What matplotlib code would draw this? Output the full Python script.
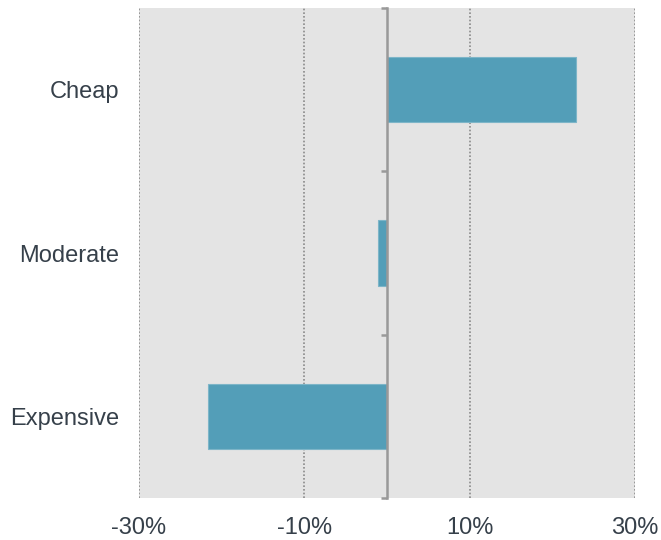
import matplotlib
matplotlib.use("Agg")
import matplotlib.pyplot as plt
import numpy as np

categories = ["Cheap", "Moderate", "Expensive"]
values = [22.9, -1.1, -21.6]
xticks = [-30, -10, 10, 30]
xtick_labels = ["-30%", "-10%", "10%", "30%"]

plt.rcParams['font.family'] = ['Liberation Sans', 'DejaVu Sans']

fig = plt.figure(figsize=(6.61, 5.40), dpi=100)
ax = fig.add_axes([139/661, 42/540, 496/661, 490/540])
ax.set_facecolor('#E4E4E4')

y = np.arange(len(categories))
ax.barh(y, values, height=0.4, color='#539EB8', edgecolor='#7DB5C8', linewidth=0.8, zorder=3)

ax.set_xlim(-30, 30)
ax.set_ylim(len(categories) - 0.5, -0.5)

for xv in xticks:
    ax.axvline(xv, color='#8a8a8a', linestyle=(0, (1, 1.2)), linewidth=1.2, zorder=1)

ax.axvline(0, color='#999999', linewidth=1.8, zorder=4, clip_on=False)
bounds = np.arange(len(categories) + 1) - 0.5
ax.hlines(bounds, -0.75, 0, color='#999999', linewidth=1.8, zorder=4, clip_on=False)

for s in ax.spines.values():
    s.set_visible(False)

ax.set_xticks(xticks)
ax.set_xticklabels(xtick_labels)
ax.set_yticks(y)
ax.set_yticklabels(categories)
ax.tick_params(axis='both', length=0, labelsize=17, labelcolor='#36404a')
ax.tick_params(axis='y', pad=14)
ax.tick_params(axis='x', pad=14)

fig.savefig("out.png", dpi=100)
